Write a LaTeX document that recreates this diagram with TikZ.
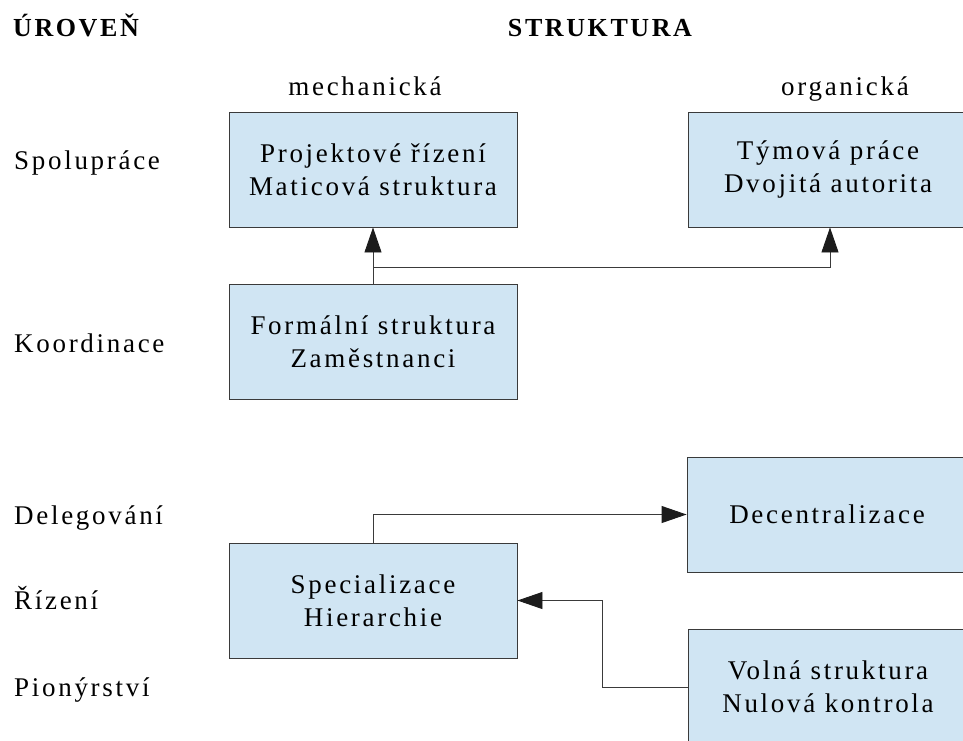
\documentclass[tikz,border=0pt]{standalone}
\usepackage{fontspec}
\usetikzlibrary{arrows.meta}
\setmainfont{Liberation Serif}
\newfontfamily\txtfont{Liberation Serif}[LetterSpace=10]
\newfontfamily\hdfont{Liberation Serif Bold}[LetterSpace=10]
\definecolor{boxfill}{HTML}{D0E5F3}
\definecolor{edge}{HTML}{3A3A3A}
\definecolor{tipfill}{HTML}{1C1C1C}
\tikzset{
  txt/.style={font=\txtfont\fontsize{27}{33}\selectfont, text=black, inner sep=0pt},
  hdr/.style={font=\hdfont\fontsize{26}{30}\selectfont, text=black, inner sep=0pt, anchor=base},
  lvl/.style={txt, anchor=base west},
  kind/.style={txt, anchor=base},
  leftbox/.style={txt, draw=edge, line width=0.9pt, fill=boxfill, align=center,
                  minimum width=288pt, minimum height=115pt},
  rightbox/.style={leftbox, minimum width=280pt},
  arr/.style={draw=edge, line width=0.9pt,
              -{Triangle[length=25pt,width=17pt,color=tipfill]}},
}
\begin{document}
\begin{tikzpicture}[x=1pt, y=-1pt]
  \useasboundingbox (0,0) rectangle (963,740);

  % column and row headings
  \node[hdr] (hlevel) at (76,36) {ÚROVEŇ};
  \node[hdr] (hstruct) at (600,36) {STRUKTURA};
  \node[kind] (hmech) at (365,95) {mechanická};
  \node[kind] (horg) at (845,95) {organická};

  % levels
  \node[lvl] (l1) at (14,169) {Spolupráce};
  \node[lvl] (l2) at (14,352) {Koordinace};
  \node[lvl] (l3) at (14,524) {Delegování};
  \node[lvl] (l4) at (14,609) {Řízení};
  \node[lvl] (l5) at (14,696) {Pionýrství};

  % structure boxes
  \node[leftbox] (b1) at (373,169.5) {Projektové řízení\\Maticová struktura};
  \node[rightbox] (b2) at (828,169.5) {Týmová práce\\Dvojitá autorita};
  \node[leftbox] (b3) at (373,342) {Formální struktura\\Zaměstnanci};
  \node[rightbox] (b4) at (827,514.5) {Decentralizace};
  \node[leftbox] (b5) at (373,600.5) {Specializace\\Hierarchie};
  \node[rightbox] (b6) at (828,687) {Volná struktura\\Nulová kontrola};

  % transitions
  \coordinate (split) at (373,267);
  \coordinate (up2) at (830,267);
  \draw[arr] (b3.north) -- (b1.south);
  \draw[arr] (split) -- (up2) -- (up2 |- b2.south);
  \draw[arr] (b5.north) |- (b4.west);
  \coordinate (bend) at (602,687);
  \draw[arr] (b6.west) -- (bend) |- (b5.east);
\end{tikzpicture}
\end{document}
